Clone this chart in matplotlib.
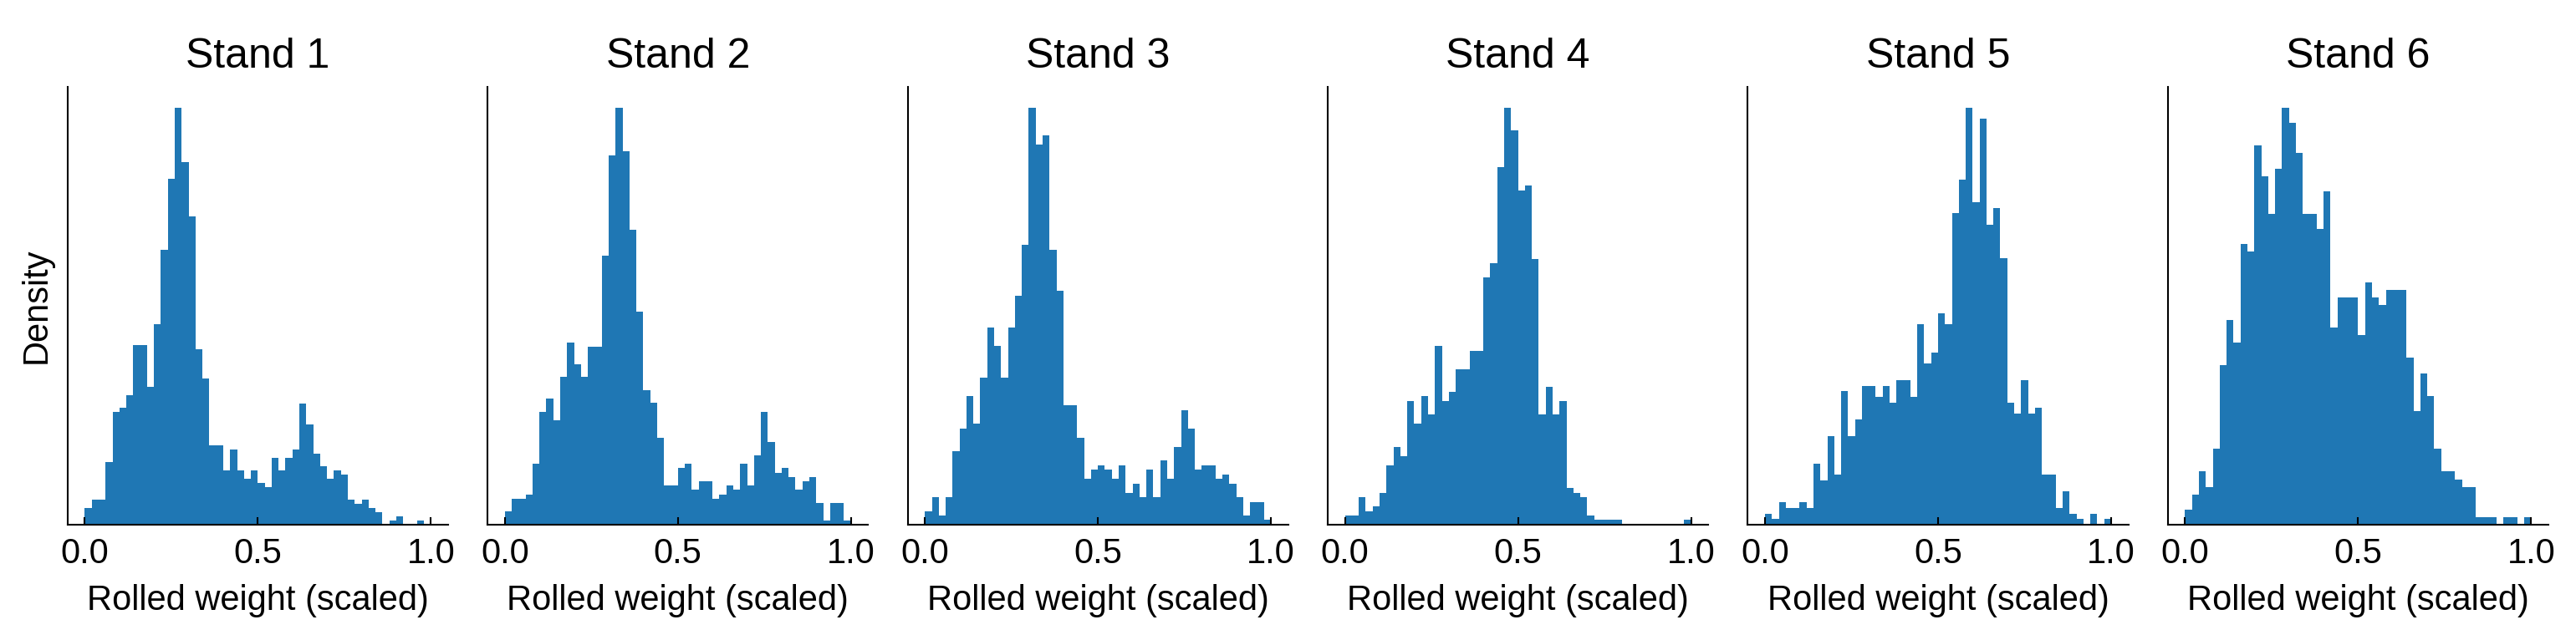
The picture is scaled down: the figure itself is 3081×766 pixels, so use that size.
import numpy as np
import matplotlib
matplotlib.use("Agg")
import matplotlib.pyplot as plt

plt.rcParams['font.family'] = ['Liberation Sans', 'DejaVu Sans']

# bin counts, 50 equal bins on [0, 1]
stand_names = ["Stand 1", "Stand 2", "Stand 3", "Stand 4", "Stand 5", "Stand 6"]
stand1 = [4, 6, 6, 15, 27, 28, 31, 43, 43, 33, 48, 66, 83, 100, 87, 74, 42, 35, 19, 19,
          13, 18, 13, 11, 13, 10, 9, 16, 13, 16, 18, 29, 24, 17, 14, 11, 13, 12, 6, 5,
          6, 4, 3, 0, 1, 2, 0, 0, 1, 0]
stand2 = [3, 6, 6, 7, 14, 26, 29, 24, 34, 42, 37, 34, 41, 41, 62, 85, 96, 86, 68, 49,
          31, 28, 20, 9, 9, 13, 14, 8, 10, 10, 6, 7, 9, 8, 14, 9, 16, 26, 19, 12,
          13, 11, 8, 10, 11, 5, 1, 5, 5, 1]
stand3 = [3, 6, 2, 6, 16, 21, 28, 22, 32, 43, 39, 32, 43, 50, 61, 91, 83, 85, 60, 51,
          26, 26, 19, 10, 12, 13, 12, 10, 13, 7, 9, 6, 12, 6, 14, 10, 17, 25, 21, 12,
          13, 13, 10, 11, 9, 6, 2, 5, 5, 1]
stand4 = [2, 2, 6, 3, 4, 7, 13, 17, 15, 27, 22, 28, 24, 39, 27, 29, 34, 34, 38, 38,
          54, 57, 78, 91, 86, 73, 74, 58, 24, 30, 24, 27, 8, 7, 6, 2, 1, 1, 1, 1,
          0, 0, 0, 0, 0, 0, 0, 0, 0, 1]
stand5 = [2, 1, 4, 3, 3, 4, 3, 11, 8, 16, 9, 24, 16, 19, 25, 25, 23, 25, 22, 26,
          26, 23, 36, 29, 31, 38, 36, 56, 62, 75, 58, 73, 54, 57, 48, 22, 20, 26, 20, 21,
          9, 9, 3, 6, 2, 1, 0, 2, 0, 1]
stand6 = [2, 4, 7, 5, 10, 21, 27, 24, 37, 36, 50, 46, 41, 47, 55, 53, 49, 41, 41, 39,
          44, 26, 30, 30, 30, 25, 32, 30, 29, 31, 31, 31, 22, 15, 20, 17, 10, 7, 7, 6,
          5, 5, 1, 1, 1, 0, 1, 1, 0, 1]
all_counts = [stand1, stand2, stand3, stand4, stand5, stand6]
xticks = [0.0, 0.5, 1.0]

edges = np.linspace(0, 1, 51)
centers = (edges[:-1] + edges[1:]) / 2

fig, axes = plt.subplots(1, 6, figsize=(3081 / 300, 766 / 300), dpi=300)
fig.subplots_adjust(left=0.0262, right=0.9893, bottom=0.1802, top=0.8642, wspace=0.1035)

for ax, name, counts in zip(axes, stand_names, all_counts):
    ax.hist(centers, bins=edges, weights=counts, density=True, color='#1f77b4')
    ax.set_title(name, fontsize=12, pad=5.5)
    ax.set_xlabel("Rolled weight (scaled)", fontsize=10)
    ax.set_xticks(xticks)
    ax.set_xticklabels([f"{t:.1f}" for t in xticks])
    ax.set_yticks([])
    ax.tick_params(axis='x', direction='in', length=2.2, width=0.5, labelsize=10)
    for side in ['top', 'right']:
        ax.spines[side].set_visible(False)
    for side in ['left', 'bottom']:
        ax.spines[side].set_linewidth(0.5)

axes[0].set_ylabel("Density", fontsize=10)

fig.savefig("out.png", dpi=300)
